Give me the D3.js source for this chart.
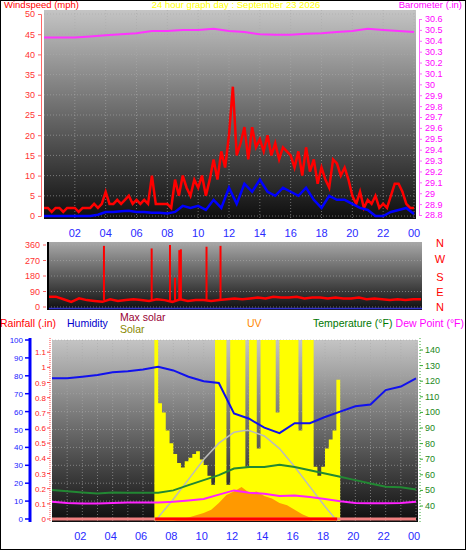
<!DOCTYPE html>
<html><head><meta charset="utf-8">
<script src="https://cdn.jsdelivr.net/npm/d3@7"></script>
<style>body{margin:0;background:#fff}svg{display:block;font-family:"Liberation Sans",Arial,sans-serif}</style>
</head><body><svg id="c" width="466" height="550"></svg>
<script>
const hourTicks = ["02","04","06","08","10","12","14","16","18","20","22","00"];
const windTicks = [0,5,10,15,20,25,30,35,40,45,50];
const baroTicks = [28.8,28.9,29,29.1,29.2,29.3,29.4,29.5,29.6,29.7,29.8,29.9,30,30.1,30.2,30.3,30.4,30.5,30.6];
const dirTicks = [0,90,180,270,360];
const dirLabels = ["N","W","S","E","N"];
const humTicks = [0,10,20,30,40,50,60,70,80,90,100];
const rainTicks = [0,0.1,0.2,0.3,0.4,0.5,0.6,0.7,0.8,0.9,1,1.1];
const tempTicks = [40,50,60,70,80,90,100,110,120,130,140];
// 15-min gusts (mph), 0..24h
const windGust = [2,2,1,2,2,1,2,2,2,1,2,2, 2,3,2,3, 6,3,3,4, 3,4,5,3, 4,3,4,3, 10,3,3,3, 3,2,9,5, 10,7,5,9, 7,10,5,9, 14,9,16,12, 20,32,15,18, 22,14,22,17, 19,16,20,15, 18,14,17,16, 15,12,16,10, 17,11,14,8, 12,9,7,14, 13,10,12,9, 5,3,6,2, 4,3,5,2, 3,2,5,8, 8,6,3,2, 2];
// 30-min average wind
const windAvg = [0,0,0,0,0,0,0,0.3,1,1,1.2,1.3,1,1,0.8,0.8,0.6,1,2.5,2,2.5,1.5,4,2,7,3,8,6,9,6,5,7,6,5,7,4,2,5,4,4,3,2,1.5,0,0,1,1.5,2,0.5];
// hourly barometer
const baro = [30.43,30.43,30.43,30.44,30.45,30.46,30.47,30.49,30.49,30.50,30.50,30.51,30.49,30.48,30.46,30.455,30.455,30.465,30.47,30.48,30.49,30.51,30.50,30.49,30.48];
// 30-min wind direction baseline
const windDir = [60,60,45,30,50,40,35,30,45,35,40,45,40,35,45,40,30,45,35,40,40,35,40,45,50,45,50,55,50,60,55,55,60,50,55,55,50,55,50,50,55,45,50,45,40,45,40,45,45];
const dirSpikeHours = [3.6,6.67,7.85,8.17,8.45,8.55,10.2,11.1];
const dirSpikeValues = [355,340,360,170,330,335,350,355];
// hourly humidity, temperature, dew point
const humidity = [78.6,78.6,79.5,80.5,82,82.5,83.5,85,83,79.5,77,76,59,56,51,48,53.5,53.5,57,60,63,64,72,74,78.6];
const temperature = [50.2,49.5,48.7,48,48.7,48.5,48.5,48.5,50,53.4,56.6,59.8,64,65,65,66.5,65,62.9,60.8,58.7,56.6,54.4,52.3,52,50.6];
const dewPoint = [42.7,42,41.6,41.6,42,42.2,42.2,42.3,42.7,43.5,44.5,47.3,50,48.5,47.9,46.4,46.8,45.7,44.5,43,41.9,41.8,41.7,42,42.7];
const rain = [0,0,0,0,0,0,0,0,0,0,0,0,0,0,0,0,0,0,0,0,0,0,0,0,0];
// 15-min solar (W/m2)
const solar = [0,0,0,0,0,0,0,0,0,0,0,0,0,0,0,0,0,0,0,0,0,0,0,0,0,0,0,1000,650,600,500,430,370,320,295,330,350,370,385,340,310,250,200,1100,1100,1100,200,1100,1100,1100,1100,300,1100,1100,400,1100,1100,1100,1100,600,1100,1100,1100,1100,1100,500,1100,1100,1100,300,250,300,400,450,500,780,0,0,0,0,0,0,0,0,0,0,0,0,0,0,0,0,0,0,0,0,0];
const maxSolarHours = [6.8,7,8,9,10,11,12,12.7,13,14,15,16,17,18,18.8];
const maxSolarValues = [0,20,120,230,340,430,490,500,500,470,400,300,190,80,0];
const uvHours = [8,8.5,9,9.5,10,10.5,11,11.5,12,12.5,13,13.5,14,14.5,15,15.5,16,16.5,17,17.2];
const uvValues = [0,0.2,0.3,0.5,0.7,1.0,1.6,2.3,2.6,3.0,2.5,2.6,2.2,2.0,1.6,1.4,1.0,0.6,0.3,0];

const svg = d3.select("#c");
const defs = svg.append("defs");
function grad(id, c1, c2){const g=defs.append("linearGradient").attr("id",id).attr("x1",0).attr("x2",0).attr("y1",0).attr("y2",1);
 g.append("stop").attr("offset","0%").attr("stop-color",c1);g.append("stop").attr("offset","100%").attr("stop-color",c2);}
grad("g1","#c4c4c4","#0e0e0e"); grad("g2","#a8a8a8","#0e0e0e"); grad("g3","#c4c4c4","#0e0e0e");
const txt=(x,y,s,c,size,anchor)=>svg.append("text").attr("x",x).attr("y",y).text(s).attr("fill",c).attr("font-size",size).attr("text-anchor",anchor||"start");
function grid(g,x,y,xt,yt,x0,x1,y0,y1){
 xt.forEach(t=>g.append("line").attr("x1",x(t)).attr("x2",x(t)).attr("y1",y0).attr("y2",y1).attr("stroke","#aaa").attr("stroke-dasharray","1,2").attr("stroke-opacity",0.6));
 yt.forEach(t=>g.append("line").attr("x1",x0).attr("x2",x1).attr("y1",y(t)).attr("y2",y(t)).attr("stroke","#aaa").attr("stroke-dasharray","1,2").attr("stroke-opacity",0.6));
}
// ---------- Panel 1
const x1=d3.scaleLinear([0,24],[44,414]);
const yW=d3.scaleLinear([0,50],[216,14]);
const yB=d3.scaleLinear([28.8,30.6],[215,19]);
svg.append("rect").attr("x",44).attr("y",10).attr("width",372).attr("height",209).attr("fill","url(#g1)");
const p1=svg.append("g");
grid(p1,x1,yW,d3.range(2,25,2),windTicks,44,416,10,219);
p1.append("path").datum(baro).attr("d",d3.line().x((d,i)=>x1(i)).y(d=>yB(d))).attr("fill","none").attr("stroke","#ff33ff").attr("stroke-width",2);
p1.append("path").datum(windGust).attr("d",d3.line().x((d,i)=>x1(i/4)).y(d=>yW(d))).attr("fill","none").attr("stroke","#ff0000").attr("stroke-width",2.5);
p1.append("path").datum(windAvg).attr("d",d3.line().x((d,i)=>x1(i/2)).y(d=>yW(d))).attr("fill","none").attr("stroke","#0000ff").attr("stroke-width",2.5);
const aL=svg.append("g").attr("transform","translate(41,0)").call(d3.axisLeft(yW).tickValues(windTicks).tickSize(3).tickFormat(d3.format("d")));
aL.selectAll("text").attr("fill","#ff3333").attr("font-size",9); aL.selectAll("line,path").attr("stroke","#ff6666");
const aR=svg.append("g").attr("transform","translate(419,0)").call(d3.axisRight(yB).tickValues(baroTicks).tickSize(3).tickFormat(d=>+d.toFixed(1)));
aR.selectAll("text").attr("fill","#ff00ff").attr("font-size",9); aR.selectAll("line,path").attr("stroke","#ff66ff");
hourTicks.forEach((t,i)=>txt(x1((i+1)*2),237,t,"#2a2aff",11,"middle"));
txt(4,8,"Windspeed (mph)","#ff0000",9.5);
txt(236,8,"24 hour graph day : September 23 2026","#ffff00",9.5,"middle");
txt(462,8,"Barometer (.in)","#ff00ff",9.5,"end");
// ---------- Panel 2
const x2=d3.scaleLinear([0,24],[48,421]);
const yD=d3.scaleLinear([0,360],[307,245]);
svg.append("rect").attr("x",48).attr("y",242).attr("width",374).attr("height",68).attr("fill","url(#g2)");
const p2=svg.append("g");
grid(p2,x2,yD,[],dirTicks,48,422,242,310);
p2.append("line").attr("x1",48).attr("x2",422).attr("y1",308.5).attr("y2",308.5).attr("stroke","#3333cc").attr("stroke-width",1.5);
p2.append("path").datum(windDir).attr("d",d3.line().x((d,i)=>x2(i/2)).y(d=>yD(d))).attr("fill","none").attr("stroke","#ff0000").attr("stroke-width",2.5);
dirSpikeHours.forEach((h,i)=>p2.append("line").attr("x1",x2(h)).attr("x2",x2(h)).attr("y1",yD(40)).attr("y2",yD(dirSpikeValues[i])).attr("stroke","#ff0000").attr("stroke-width",2));
svg.append("line").attr("x1",48).attr("x2",48).attr("y1",242).attr("y2",310).attr("stroke","#000").attr("stroke-width",2);
dirTicks.forEach(t=>{txt(40,yD(t)+3,String(t),"#ff3333",9,"end");svg.append("line").attr("x1",43).attr("x2",46).attr("y1",yD(t)).attr("y2",yD(t)).attr("stroke","#ff6666");});
dirLabels.forEach((l,i)=>txt(440,[247,263,281,296,311][i],l,"#ff0000",11,"middle"));
// legend
txt(0,327,"Rainfall (.in)","#ff0000",10.5); txt(67,327,"Humidity","#0000cc",10.5);
txt(120,321,"Max solar","#990033",10.5); txt(120,333,"Solar","#888800",10.5);
txt(247,327,"UV","#ff8800",10.5); txt(313,327,"Temperature (°F)","#007700",10.5); txt(464,327,"Dew Point (°F)","#ff00ff",10.5,"end");
// ---------- Panel 3
const x3=d3.scaleLinear([0,24],[52,416]);
const yH=d3.scaleLinear([0,100],[519,340]);
const yR=d3.scaleLinear([0,1.2],[519,337]);
const yT=d3.scaleLinear([30,140],[521.6,350]);
const yS=d3.scaleLinear([0,1000],[521,340]).clamp(true);
const yU=d3.scaleLinear([0,16],[521,340]);
svg.append("rect").attr("x",52).attr("y",340).attr("width",366).attr("height",182).attr("fill","url(#g3)");
const p3=svg.append("g");
grid(p3,x3,yH,d3.range(1,25),humTicks,52,418,340,522);
p3.append("path").datum(solar).attr("d",d3.area().x((d,i)=>x3(i/4)).y0(521).y1(d=>yS(d)).curve(d3.curveStepAfter)).attr("fill","#ffff00");
p3.append("path").datum(maxSolarValues).attr("d",d3.line().x((d,i)=>x3(maxSolarHours[i])).y(d=>yS(d))).attr("fill","none").attr("stroke","#bbbbbb").attr("stroke-width",1.5);
p3.append("path").datum(uvValues).attr("d",d3.area().x((d,i)=>x3(uvHours[i])).y0(521).y1(d=>yU(d))).attr("fill","#ff9900");
p3.append("path").datum(dewPoint).attr("d",d3.line().x((d,i)=>x3(i)).y(d=>yT(d))).attr("fill","none").attr("stroke","#ff22ff").attr("stroke-width",2);
p3.append("path").datum(temperature).attr("d",d3.line().x((d,i)=>x3(i)).y(d=>yT(d))).attr("fill","none").attr("stroke","#228833").attr("stroke-width",2);
p3.append("path").datum(humidity).attr("d",d3.line().x((d,i)=>x3(i)).y(d=>yH(d))).attr("fill","none").attr("stroke","#1111ee").attr("stroke-width",2);
p3.append("path").datum(rain).attr("d",d3.line().x((d,i)=>x3(i)).y(d=>yR(d))).attr("fill","none").attr("stroke","#f08080").attr("stroke-width",3);
p3.append("line").attr("x1",x3(6.8)).attr("x2",x3(18.8)).attr("y1",yR(0)).attr("y2",yR(0)).attr("stroke","#ff0000").attr("stroke-width",3);
svg.append("line").attr("x1",30).attr("x2",30).attr("y1",338).attr("y2",522).attr("stroke","#0000ff").attr("stroke-width",3);
humTicks.forEach(t=>{txt(23,yH(t)+3,String(t),"#2222ff",8,"end");svg.append("line").attr("x1",25).attr("x2",30).attr("y1",yH(t)).attr("y2",yH(t)).attr("stroke","#0000ff").attr("stroke-width",1.5);});
svg.append("line").attr("x1",50).attr("x2",50).attr("y1",338).attr("y2",522).attr("stroke","#ff4444").attr("stroke-dasharray","1,1");
rainTicks.forEach(t=>{txt(46,yR(t)+3,String(+t.toFixed(1)),"#ff2222",8,"end");svg.append("line").attr("x1",47).attr("x2",50).attr("y1",yR(t)).attr("y2",yR(t)).attr("stroke","#ff4444");});
svg.append("line").attr("x1",420).attr("x2",420).attr("y1",338).attr("y2",522).attr("stroke","#33aa33").attr("stroke-dasharray","1,2");
tempTicks.forEach(t=>{txt(425,yT(t)+3,String(t),"#228822",9,"start");svg.append("line").attr("x1",420).attr("x2",423).attr("y1",yT(t)).attr("y2",yT(t)).attr("stroke","#33aa33");});
hourTicks.forEach((t,i)=>txt(x3((i+1)*2)-2,540,t,"#2a2aff",11,"middle"));
svg.append("rect").attr("x",0.5).attr("y",0.5).attr("width",465).attr("height",549).attr("fill","none").attr("stroke","#000");
</script></body></html>
